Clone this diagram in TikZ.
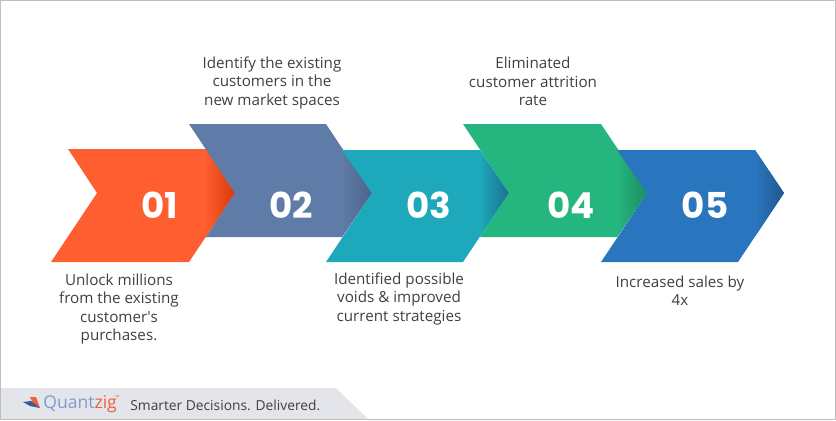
\documentclass[tikz,border=0pt]{standalone}
\usepackage{fontspec}
\setmainfont{Open Sans}
\newfontfamily\numfont{Poppins}
\usepackage{xcolor}
\usetikzlibrary{positioning}
\definecolor{orangefill}{RGB}{255, 94, 48}
\definecolor{orangedark}{RGB}{214, 58, 10}
\definecolor{slatefill}{RGB}{95, 123, 167}
\definecolor{slatedark}{RGB}{76, 100, 140}
\definecolor{tealfill}{RGB}{30, 168, 187}
\definecolor{tealdark}{RGB}{28, 112, 140}
\definecolor{greenfill}{RGB}{37, 181, 126}
\definecolor{greendark}{RGB}{30, 140, 98}
\definecolor{bluefill}{RGB}{41, 117, 190}
\definecolor{bluedark}{RGB}{32, 88, 142}
\definecolor{textgray}{RGB}{64, 64, 64}
\definecolor{footergray}{RGB}{228, 229, 235}
\definecolor{framegray}{RGB}{190, 190, 190}
\definecolor{logoblue}{RGB}{125, 155, 205}
\definecolor{logored}{RGB}{240, 95, 55}
\definecolor{logonavy}{RGB}{60, 90, 150}

\begin{document}
\begin{tikzpicture}[
    x=0.02cm, y=-0.02cm,
    caption/.style={align=center, inner sep=0pt, text=textgray, font=\fontsize{8.65pt}{10.5pt}\selectfont},
    number/.style={inner sep=0pt, text=white, font=\fontsize{20.3pt}{22pt}\numfont\bfseries}
]
\useasboundingbox (0,0) rectangle (836,420);
% Frame
\draw[framegray, line width=0.4pt] (0.5,0.5) rectangle (835.5,419.5);

% Chevron 01
\fill[orangefill] (68,149) -- (206,149) -- (235,193) -- (189,262) -- (51,262) -- (97,193) -- cycle;
\begin{scope}
\clip (68,149) -- (206,149) -- (235,193) -- (189,262) -- (51,262) -- (97,193) -- cycle;
\shade[left color=orangefill, right color=orangedark] (205,140) rectangle (235,270);
\end{scope}
% Chevron 02
\fill[slatefill] (189,124) -- (326,124) -- (372,193) -- (342,237) -- (206,237) -- (235,193) -- cycle;
\begin{scope}
\clip (189,124) -- (326,124) -- (372,193) -- (342,237) -- (206,237) -- (235,193) -- cycle;
\shade[left color=slatefill, right color=slatedark] (342,120) rectangle (372,240);
\end{scope}
% Chevron 03
\fill[tealfill] (342,150) -- (480,150) -- (509,193) -- (463,262) -- (326,262) -- (372,193) -- cycle;
\begin{scope}
\clip (342,150) -- (480,150) -- (509,193) -- (463,262) -- (326,262) -- (372,193) -- cycle;
\shade[left color=tealfill, right color=tealdark] (480,140) rectangle (509,270);
\end{scope}
% Chevron 04
\fill[greenfill] (463,124) -- (601,124) -- (647,193) -- (617,237) -- (480,237) -- (509,193) -- cycle;
\begin{scope}
\clip (463,124) -- (601,124) -- (647,193) -- (617,237) -- (480,237) -- (509,193) -- cycle;
\shade[left color=greenfill, right color=greendark] (617,120) rectangle (647,240);
\end{scope}
% Chevron 05
\fill[bluefill] (617,150) -- (755,150) -- (784,193) -- (738,262) -- (601,262) -- (647,193) -- cycle;
\begin{scope}
\clip (617,150) -- (755,150) -- (784,193) -- (738,262) -- (601,262) -- (647,193) -- cycle;
\shade[left color=bluefill, right color=bluedark] (755,140) rectangle (784,270);
\end{scope}

% Numbers
\node[number] (num1) at (159.5,205) {01};
\node[number] (num2) at (291,205) {02};
\node[number] (num3) at (429,205) {03};
\node[number] (num4) at (571,205) {04};
\node[number] (num5) at (705,205) {05};

% Captions
\node[caption] (cap1) at (119,309) {Unlock millions\\from the existing\\customer\textquotesingle s\\purchases.};
\node[caption] (cap2) at (272,83) {Identify the existing\\customers in the\\new market spaces};
\node[caption] (cap3) at (399,299) {Identified possible\\voids \& improved\\current strategies};
\node[caption] (cap4) at (533,81.5) {Eliminated\\customer attrition\\rate};
\node[caption] (cap5) at (680,290.5) {Increased sales by\\4x};

% Footer
\fill[footergray] (1,388) -- (336,388) -- (368,419) -- (1,419) -- cycle;
\fill[logored] (30,397) -- (36,397) -- (40,408) -- (33,403) -- cycle;
\fill[logonavy] (23,402) -- (31,401) -- (40,408) -- (30,406) -- cycle;
\node[inner sep=0pt, anchor=west, font=\fontsize{10pt}{12pt}\selectfont] (logo) at (43,404) {\textcolor{logoblue}{Quant}\textcolor{logored}{zig}};
\node[inner sep=0pt, anchor=west, text=logored, font=\fontsize{3pt}{4pt}\selectfont] (logotm) at (115,398) {™};
\node[inner sep=0pt, anchor=west, text=textgray, font=\fontsize{7.85pt}{10pt}\selectfont] (slogan) at (130,405) {Smarter Decisions. Delivered.};
\end{tikzpicture}
\end{document}
